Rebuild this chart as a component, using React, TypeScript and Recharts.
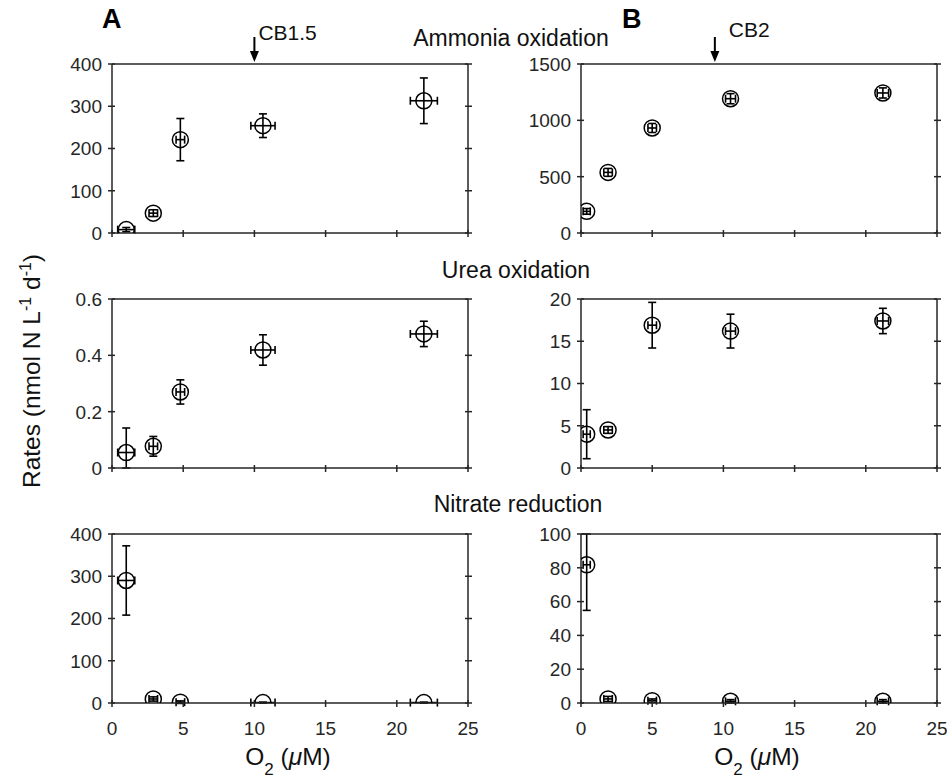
import React from 'react';
import { ScatterChart, Scatter, XAxis, YAxis, ErrorBar, ReferenceDot } from 'recharts';

const AXIS = '#262626';
const FONT = '"Liberation Sans", Arial, Helvetica, sans-serif';

// O2 concentrations (µM) and their errors
const o2A = [1.0, 2.9, 4.8, 10.6, 21.9];
const o2AErr = [0.6, 0.3, 0.3, 0.85, 0.95];
const o2B = [0.4, 1.9, 5.0, 10.5, 21.2];
const o2BErr = [0.25, 0.3, 0.3, 0.35, 0.4];

// Ammonia oxidation
const ammoniaA = [8, 47, 221, 254, 313];
const ammoniaAErr = [5, 8, 50, 28, 54];
const ammoniaB = [192, 538, 932, 1192, 1243];
const ammoniaBErr = [25, 35, 40, 45, 45];

// Urea oxidation
const ureaA = [0.055, 0.077, 0.27, 0.419, 0.476];
const ureaAErr: (number | number[])[] = [[0.055, 0.087], 0.035, 0.043, 0.054, 0.045];
const ureaB = [4.0, 4.5, 16.9, 16.2, 17.4];
const ureaBErr = [2.9, 0.4, 2.7, 2.0, 1.5];

// Nitrate reduction
const nitrateA = [290, 9.5, 2, 1, 1];
const nitrateAErr = [82, 5, 3, 1, 1];
const nitrateB = [81.8, 2.4, 1.4, 1, 1];
const nitrateBErr: (number | number[])[] = [[27, 18.2], 1.5, 1, 1, 1];

const xTicks = [0, 5, 10, 15, 20, 25];
const yTicksAmmA = [0, 100, 200, 300, 400];
const yTicksAmmB = [0, 500, 1000, 1500];
const yTicksUreaA = [0, 0.2, 0.4, 0.6];
const yTicksUreaB = [0, 5, 10, 15, 20];
const yTicksNitA = [0, 100, 200, 300, 400];
const yTicksNitB = [0, 20, 40, 60, 80, 100];

const rows = (x: number[], xe: number[], y: number[], ye: (number | number[])[]) =>
  x.map((v, i) => ({ x: v, y: y[i], ex: xe[i], ey: ye[i] }));

const PLOT_W = 356;
const PLOT_H = 169;

const makeBottomTick = (showLabel: boolean) => (props: any) => {
  const { x, y, payload } = props;
  return (
    <g>
      <line x1={x} x2={x} y1={y - 3} y2={y + 4} stroke={AXIS} strokeWidth={1.5} />
      {showLabel && (
        <text x={x} y={y + 32} textAnchor="middle" fill={AXIS} fontSize={19} fontFamily={FONT}>
          {payload.value}
        </text>
      )}
    </g>
  );
};
const TopTick = (props: any) => {
  const { x, y } = props;
  return <line x1={x} x2={x} y1={y - 4} y2={y + 3} stroke={AXIS} strokeWidth={1.5} />;
};
const LeftTick = (props: any) => {
  const { x, y, payload } = props;
  return (
    <g>
      <line x1={x - 4} x2={x + 3} y1={y} y2={y} stroke={AXIS} strokeWidth={1.5} />
      <text x={x - 10} y={y} dy="0.36em" textAnchor="end" fill={AXIS} fontSize={19} fontFamily={FONT}>
        {payload.value}
      </text>
    </g>
  );
};
const RightTick = (props: any) => {
  const { x, y } = props;
  return <line x1={x - 3} x2={x + 4} y1={y} y2={y} stroke={AXIS} strokeWidth={1.5} />;
};

const Marker = (p: any) => (
  <circle cx={p.cx} cy={p.cy} r={8} fill="none" stroke="#000" strokeWidth={1.5} />
);

const makeArrow = (label: string, textDx: number, textDy: number) => (p: any) => {
  const { cx, cy } = p;
  return (
    <g>
      <line x1={cx} x2={cx} y1={cy - 27} y2={cy - 10} stroke="#000" strokeWidth={2} />
      <polygon points={`${cx - 4.5},${cy - 13} ${cx + 4.5},${cy - 13} ${cx},${cy - 2}`} fill="#000" />
      <text x={cx + textDx} y={cy - textDy} fill="#111" fontSize={21} fontFamily={FONT}>
        {label}
      </text>
    </g>
  );
};

type PanelProps = {
  left: number;
  top: number;
  data: any[];
  yDomain: [number, number];
  yTicks: number[];
  showXLabels: boolean;
  arrow?: { x: number; label: string; dx: number; dy: number };
};

const Panel = ({ left, top, data, yDomain, yTicks, showXLabels, arrow }: PanelProps) => {
  const mt = arrow ? 45 : 10;
  const W = 60 + PLOT_W + 6 + 4;
  const H = mt + 10 + PLOT_H + 40 + 10;
  return (
    <div style={{ position: 'absolute', left: left - 60, top: top - mt - 10 }}>
      <ScatterChart width={W} height={H} margin={{ top: mt, right: 4, left: 0, bottom: 10 }}>
        <XAxis
          xAxisId="b"
          type="number"
          dataKey="x"
          domain={[0, 25]}
          ticks={xTicks}
          allowDataOverflow
          orientation="bottom"
          height={40}
          tickSize={0}
          tickMargin={0}
          tickLine={false}
          axisLine={{ stroke: AXIS, strokeWidth: 1.5 }}
          tick={makeBottomTick(showXLabels)}
          interval={0}
        />
        <XAxis
          xAxisId="t"
          type="number"
          domain={[0, 25]}
          ticks={xTicks}
          allowDataOverflow
          orientation="top"
          height={10}
          tickSize={0}
          tickMargin={0}
          tickLine={false}
          axisLine={{ stroke: AXIS, strokeWidth: 1.5 }}
          tick={TopTick}
          interval={0}
        />
        <YAxis
          yAxisId="l"
          type="number"
          dataKey="y"
          domain={yDomain}
          ticks={yTicks}
          allowDataOverflow
          orientation="left"
          width={60}
          tickSize={0}
          tickMargin={0}
          tickLine={false}
          axisLine={{ stroke: AXIS, strokeWidth: 1.5 }}
          tick={LeftTick}
          interval={0}
        />
        <YAxis
          yAxisId="r"
          type="number"
          domain={yDomain}
          ticks={yTicks}
          allowDataOverflow
          orientation="right"
          width={6}
          tickSize={0}
          tickMargin={0}
          tickLine={false}
          axisLine={{ stroke: AXIS, strokeWidth: 1.5 }}
          tick={RightTick}
          interval={0}
        />
        <Scatter data={data} xAxisId="b" yAxisId="l" isAnimationActive={false} shape={Marker}>
          <ErrorBar dataKey="ey" direction="y" width={4} stroke="#000" strokeWidth={1.6} isAnimationActive={false} />
          <ErrorBar dataKey="ex" direction="x" width={4} stroke="#000" strokeWidth={1.6} isAnimationActive={false} />
        </Scatter>
        {arrow && (
          <ReferenceDot
            xAxisId="b"
            yAxisId="l"
            x={arrow.x}
            y={yDomain[1]}
            ifOverflow="visible"
            shape={makeArrow(arrow.label, arrow.dx, arrow.dy)}
          />
        )}
      </ScatterChart>
    </div>
  );
};

const LEFT_A = 112;
const LEFT_B = 581;
const TOPS = [64, 299, 534];

export default function App() {
  return (
    <div
      style={{
        position: 'absolute',
        left: 0,
        top: 0,
        width: 952,
        height: 782,
        overflow: 'hidden',
        background: '#fff',
        fontFamily: FONT,
      }}
    >
      <Panel left={LEFT_A} top={TOPS[0]} data={rows(o2A, o2AErr, ammoniaA, ammoniaAErr)} yDomain={[0, 400]} yTicks={yTicksAmmA} showXLabels={false} arrow={{ x: 10, label: 'CB1.5', dx: 4, dy: 24 }} />
      <Panel left={LEFT_B} top={TOPS[0]} data={rows(o2B, o2BErr, ammoniaB, ammoniaBErr)} yDomain={[0, 1500]} yTicks={yTicksAmmB} showXLabels={false} arrow={{ x: 9.4, label: 'CB2', dx: 14, dy: 27 }} />
      <Panel left={LEFT_A} top={TOPS[1]} data={rows(o2A, o2AErr, ureaA, ureaAErr)} yDomain={[0, 0.6]} yTicks={yTicksUreaA} showXLabels={false} />
      <Panel left={LEFT_B} top={TOPS[1]} data={rows(o2B, o2BErr, ureaB, ureaBErr)} yDomain={[0, 20]} yTicks={yTicksUreaB} showXLabels={false} />
      <Panel left={LEFT_A} top={TOPS[2]} data={rows(o2A, o2AErr, nitrateA, nitrateAErr)} yDomain={[0, 400]} yTicks={yTicksNitA} showXLabels={true} />
      <Panel left={LEFT_B} top={TOPS[2]} data={rows(o2B, o2BErr, nitrateB, nitrateBErr)} yDomain={[0, 100]} yTicks={yTicksNitB} showXLabels={true} />
      <svg width={952} height={782} style={{ position: 'absolute', left: 0, top: 0, pointerEvents: 'none' }}>
        <text x={102} y={28} fontSize={27} fontWeight="bold" fill="#000" fontFamily={FONT}>A</text>
        <text x={622} y={28} fontSize={27} fontWeight="bold" fill="#000" fontFamily={FONT}>B</text>
        <text x={511} y={46} fontSize={23} textAnchor="middle" fill="#111" fontFamily={FONT}>Ammonia oxidation</text>
        <text x={516} y={278} fontSize={23} textAnchor="middle" fill="#111" fontFamily={FONT}>Urea oxidation</text>
        <text x={518} y={512} fontSize={23} textAnchor="middle" fill="#111" fontFamily={FONT}>Nitrate reduction</text>
        <text x={40} y={371} fontSize={24.5} textAnchor="middle" fill="#111" fontFamily={FONT} transform="rotate(-90 40 371)">
          Rates (nmol N L
          <tspan dy={-9} fontSize={16}>-1</tspan>
          <tspan dy={9}> d</tspan>
          <tspan dy={-9} fontSize={16}>-1</tspan>
          <tspan dy={9}>)</tspan>
        </text>
        {[288, 757].map((cx) => (
          <text key={cx} x={cx} y={765} fontSize={24.5} textAnchor="middle" fill="#111" fontFamily={FONT}>
            O<tspan dy={10} fontSize={17}>2</tspan>
            <tspan dy={-10}> (</tspan>
            <tspan fontStyle="italic">μ</tspan>
            <tspan>M)</tspan>
          </text>
        ))}
      </svg>
    </div>
  );
}
